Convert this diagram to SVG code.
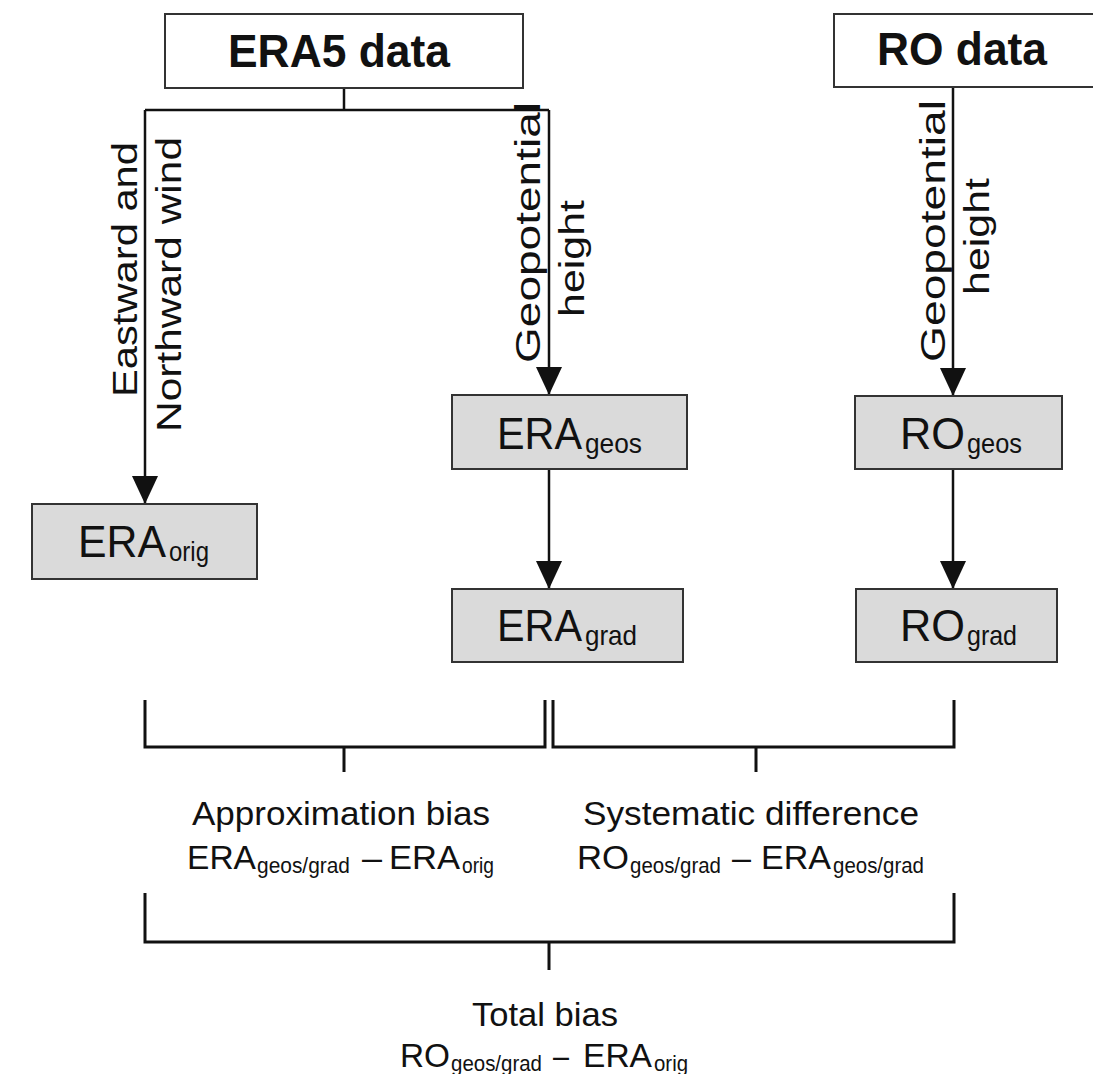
<svg xmlns="http://www.w3.org/2000/svg" width="1093" height="1074" viewBox="0 0 1093 1074">
<style>
  text { font-family: "Liberation Sans", Arial, sans-serif; fill: #111; }
  .title { font-size: 46px; font-weight: bold; }
  .big { font-size: 45px; }
  .sub { font-size: 28px; }
  .lab { font-size: 35px; }
  .cap { font-size: 34px; }
  .f { font-size: 33px; }
  .fs { font-size: 22px; }
  .src { fill: #fff; stroke: #333; stroke-width: 2; }
  .res { fill: #dadada; stroke: #333; stroke-width: 2; }
  .conn { fill: none; stroke: #111; stroke-width: 2.5; }
  .br { fill: none; stroke: #111; stroke-width: 3; }
</style>
<defs>
  <marker id="ah" markerUnits="userSpaceOnUse" markerWidth="28" markerHeight="26" refX="28" refY="13" orient="auto">
    <path d="M0,0 L28,13 L0,26 z" fill="#111"/>
  </marker>
</defs>
<rect width="1093" height="1074" fill="#fff"/>

<g id="connectors">
  <path class="conn" d="M344,88 V110"/>
  <path class="conn" d="M145,110 H549"/>
  <path class="conn" d="M145,110 V504" marker-end="url(#ah)"/>
  <path class="conn" d="M549,110 V395" marker-end="url(#ah)"/>
  <path class="conn" d="M549,469 V589" marker-end="url(#ah)"/>
  <path class="conn" d="M953,87 V396" marker-end="url(#ah)"/>
  <path class="conn" d="M953,469 V589" marker-end="url(#ah)"/>
  <text class="lab" transform="translate(137,269.5) rotate(-90)" text-anchor="middle" textLength="255" lengthAdjust="spacingAndGlyphs">Eastward and</text>
  <text class="lab" transform="translate(181,284.5) rotate(-90)" text-anchor="middle" textLength="295" lengthAdjust="spacingAndGlyphs">Northward wind</text>
  <text class="lab" transform="translate(540,232.5) rotate(-90)" text-anchor="middle" textLength="261" lengthAdjust="spacingAndGlyphs">Geopotential</text>
  <text class="lab" transform="translate(584,258.5) rotate(-90)" text-anchor="middle" textLength="117" lengthAdjust="spacingAndGlyphs">height</text>
  <text class="lab" transform="translate(945,231) rotate(-90)" text-anchor="middle" textLength="262" lengthAdjust="spacingAndGlyphs">Geopotential</text>
  <text class="lab" transform="translate(989,236.5) rotate(-90)" text-anchor="middle" textLength="117" lengthAdjust="spacingAndGlyphs">height</text>
</g>

<g id="era5">
  <rect class="src" x="165" y="14" width="358" height="74"/>
  <text class="title" x="228" y="67" textLength="222" lengthAdjust="spacingAndGlyphs">ERA5 data</text>
</g>
<g id="ro">
  <rect class="src" x="834" y="14" width="270" height="73"/>
  <text class="title" x="877" y="65" textLength="170" lengthAdjust="spacingAndGlyphs">RO data</text>
</g>

<g id="era-orig">
  <rect class="res" x="32" y="504" width="225" height="75"/>
  <text class="big" x="78" y="557" textLength="88" lengthAdjust="spacingAndGlyphs">ERA</text>
  <text class="sub" x="169" y="561" textLength="40" lengthAdjust="spacingAndGlyphs">orig</text>
</g>
<g id="era-geos">
  <rect class="res" x="452" y="395" width="235" height="74"/>
  <text class="big" x="497" y="449" textLength="85" lengthAdjust="spacingAndGlyphs">ERA</text>
  <text class="sub" x="585" y="453" textLength="57" lengthAdjust="spacingAndGlyphs">geos</text>
</g>
<g id="era-grad">
  <rect class="res" x="452" y="589" width="231" height="73"/>
  <text class="big" x="497" y="641" textLength="85" lengthAdjust="spacingAndGlyphs">ERA</text>
  <text class="sub" x="585" y="645" textLength="52" lengthAdjust="spacingAndGlyphs">grad</text>
</g>
<g id="ro-geos">
  <rect class="res" x="855" y="396" width="207" height="73"/>
  <text class="big" x="900" y="449" textLength="65" lengthAdjust="spacingAndGlyphs">RO</text>
  <text class="sub" x="967" y="453" textLength="55" lengthAdjust="spacingAndGlyphs">geos</text>
</g>
<g id="ro-grad">
  <rect class="res" x="856" y="589" width="201" height="73"/>
  <text class="big" x="900" y="641" textLength="65" lengthAdjust="spacingAndGlyphs">RO</text>
  <text class="sub" x="967" y="645" textLength="50" lengthAdjust="spacingAndGlyphs">grad</text>
</g>

<g id="approx-bias">
  <path class="br" d="M145,700 V747 H545 V700 M344,747 V772"/>
  <text class="cap" x="192" y="825" textLength="298" lengthAdjust="spacingAndGlyphs">Approximation bias</text>
  <text class="f" x="187" y="869" textLength="69" lengthAdjust="spacingAndGlyphs">ERA</text>
  <text class="fs" x="257" y="873" textLength="93" lengthAdjust="spacingAndGlyphs">geos/grad</text>
  <text class="f" x="362" y="869" textLength="20" lengthAdjust="spacingAndGlyphs">–</text>
  <text class="f" x="389" y="869" textLength="71" lengthAdjust="spacingAndGlyphs">ERA</text>
  <text class="fs" x="462" y="873" textLength="32" lengthAdjust="spacingAndGlyphs">orig</text>
</g>
<g id="sys-diff">
  <path class="br" d="M553,700 V747 H954 V700 M756,747 V772"/>
  <text class="cap" x="583" y="825" textLength="336" lengthAdjust="spacingAndGlyphs">Systematic difference</text>
  <text class="f" x="577" y="869" textLength="52" lengthAdjust="spacingAndGlyphs">RO</text>
  <text class="fs" x="630" y="873" textLength="91" lengthAdjust="spacingAndGlyphs">geos/grad</text>
  <text class="f" x="732" y="869" textLength="19" lengthAdjust="spacingAndGlyphs">–</text>
  <text class="f" x="761" y="869" textLength="70" lengthAdjust="spacingAndGlyphs">ERA</text>
  <text class="fs" x="833" y="873" textLength="91" lengthAdjust="spacingAndGlyphs">geos/grad</text>
</g>
<g id="total-bias">
  <path class="br" d="M145,893 V942 H954 V893 M549,942 V970"/>
  <text class="cap" x="472" y="1026" textLength="146" lengthAdjust="spacingAndGlyphs">Total bias</text>
  <text class="f" x="400" y="1067" textLength="50" lengthAdjust="spacingAndGlyphs">RO</text>
  <text class="fs" x="451" y="1071" textLength="91" lengthAdjust="spacingAndGlyphs">geos/grad</text>
  <text class="f" x="553" y="1067" textLength="16" lengthAdjust="spacingAndGlyphs">–</text>
  <text class="f" x="583" y="1067" textLength="69" lengthAdjust="spacingAndGlyphs">ERA</text>
  <text class="fs" x="654" y="1071" textLength="34" lengthAdjust="spacingAndGlyphs">orig</text>
</g>
</svg>
